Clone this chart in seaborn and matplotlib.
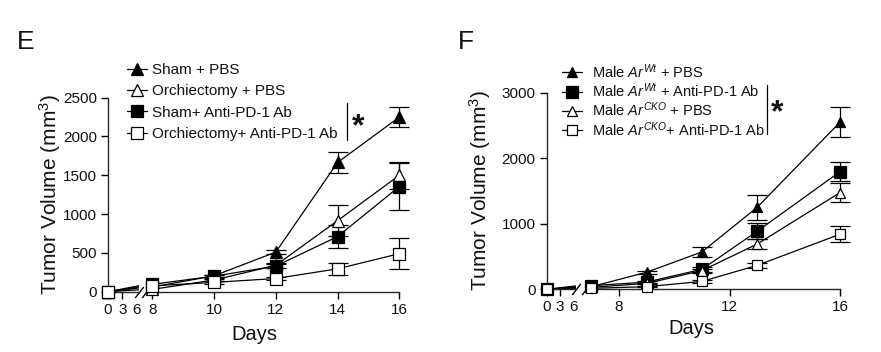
import matplotlib
matplotlib.use("Agg")
import matplotlib.pyplot as plt
from matplotlib.lines import Line2D
import pandas as pd
import seaborn as sns

# ---------------- Data: panel E ----------------
e_days = [0, 8, 10, 12, 14, 16]
e_xticks_left = [0, 3, 6]
e_xticks_right = [8, 10, 12, 14, 16]
e_yticks = [0, 500, 1000, 1500, 2000, 2500]
e_labels = ["Sham + PBS", "Orchiectomy + PBS", "Sham+ Anti-PD-1 Ab", "Orchiectomy+ Anti-PD-1 Ab"]
e_sham_pbs = [0, 60, 205, 510, 1665, 2250]
e_sham_pbs_err = [0, 0, 15, 25, 135, 130]
e_orch_pbs = [0, 30, 150, 340, 915, 1500]
e_orch_pbs_err = [0, 0, 15, 30, 200, 175]
e_sham_pd1 = [0, 95, 200, 330, 710, 1355]
e_sham_pd1_err = [0, 0, 20, 30, 150, 300]
e_orch_pd1 = [0, 75, 120, 170, 295, 490]
e_orch_pd1_err = [0, 0, 15, 20, 80, 200]

# ---------------- Data: panel F ----------------
f_days = [0, 7, 9, 11, 13, 16]
f_xticks_left = [0, 3, 6]
f_xticks_right = [8, 12, 16]
f_yticks = [0, 1000, 2000, 3000]
f_labels = [r"Male $Ar^{Wt}$ + PBS", r"Male $Ar^{Wt}$ + Anti-PD-1 Ab",
            r"Male $Ar^{CKO}$ + PBS", r"Male $Ar^{CKO}$+ Anti-PD-1 Ab"]
f_wt_pbs = [0, 40, 260, 570, 1250, 2550]
f_wt_pbs_err = [0, 0, 25, 70, 190, 225]
f_wt_pd1 = [0, 55, 110, 305, 885, 1795]
f_wt_pd1_err = [0, 0, 15, 40, 125, 150]
f_cko_pbs = [0, 30, 90, 285, 690, 1475]
f_cko_pbs_err = [0, 0, 10, 30, 70, 150]
f_cko_pd1 = [0, 15, 40, 120, 365, 840]
f_cko_pd1_err = [0, 0, 10, 20, 40, 120]

sns.set_theme(style="ticks")
plt.rcParams["font.family"] = ["Liberation Sans", "DejaVu Sans"]
plt.rcParams["mathtext.fontset"] = "custom"
plt.rcParams["mathtext.rm"] = "Liberation Sans"
plt.rcParams["mathtext.it"] = "Liberation Sans:italic"
plt.rcParams["mathtext.bf"] = "Liberation Sans:bold"
plt.rcParams["axes.linewidth"] = 1.0
TXT = "#111111"

W, H = 881, 352
fig = plt.figure(figsize=(W / 100, H / 100), dpi=100)


def rect(x0, x1, ytop, ybot):
    return [x0 / W, 1 - ybot / H, (x1 - x0) / W, (ybot - ytop) / H]


def panel(days, series, errs, labels, styles, rl, rr, xl_left, xl_right,
          xt_left, xt_right, yticks, legend_anchor, leg_fs, label_spacing, text_pad,
          ylab_x, days_xy):
    ax0 = fig.add_axes(rl)
    ax1 = fig.add_axes(rr)
    ymax = yticks[-1]
    for ax in (ax0, ax1):
        ax.set_ylim(0, ymax)
        ax.spines["top"].set_visible(False)
        ax.spines["right"].set_visible(False)
        ax.tick_params(axis="both", length=5, width=1.0, labelsize=11,
                       colors="black", labelcolor=TXT, pad=3)
        ax.set_facecolor("none")
    ax0.set_xlim(*xl_left)
    ax1.set_xlim(*xl_right)
    ax0.set_xticks(xt_left)
    ax0.set_xticklabels([str(t) for t in xt_left])
    ax0.xaxis.get_major_ticks()[-1].tick1line.set_visible(False)
    ax1.set_xticks(xt_right)
    ax1.set_xticklabels([str(t) for t in xt_right])
    ax0.set_yticks(yticks)
    ax0.set_yticklabels([str(t) for t in yticks])
    ax1.set_yticks([])
    ax1.spines["left"].set_visible(False)

    for vals, err, lab, (mk, ms, fc) in zip(series, errs, labels, styles):
        df = pd.DataFrame({"Days": days, "Volume": vals, "err": err})
        right = df[df["Days"] >= 7]
        first = df.iloc[:2]
        mstyle = dict(marker=mk, markersize=ms, markerfacecolor=fc,
                      markeredgecolor="black", markeredgewidth=0.9)
        # connecting segment across the break (clipped in both axes)
        for ax in (ax0, ax1):
            sns.lineplot(data=first, x="Days", y="Volume", ax=ax, color="black",
                         lw=0.9, sort=False, zorder=2)
        # day-0 marker
        sns.lineplot(data=df.iloc[:1], x="Days", y="Volume", ax=ax0, color="black",
                     lw=0.9, clip_on=False, zorder=4, **mstyle)
        # main series
        sns.lineplot(data=right, x="Days", y="Volume", ax=ax1, color="black",
                     lw=0.9, clip_on=False, zorder=4, label=lab, **mstyle)
        eb = right[right["err"] > 0]
        cont = ax1.errorbar(eb["Days"], eb["Volume"], yerr=eb["err"], fmt="none",
                            ecolor="black", elinewidth=0.9, capsize=7, capthick=0.9,
                            zorder=3)
        for art in cont.get_children():
            art.set_clip_on(False)
    for ax in (ax0, ax1):
        if ax.get_legend() is not None:
            ax.get_legend().remove()
        ax.set_xlabel("")
        ax.set_ylabel("")

    handles, labs = ax1.get_legend_handles_labels()
    fig.legend(handles, labs, loc="upper left",
               bbox_to_anchor=(legend_anchor[0] / W, 1 - legend_anchor[1] / H),
               frameon=False, fontsize=leg_fs, handlelength=20 / (leg_fs * 1.389),
               handletextpad=text_pad,
               labelspacing=label_spacing, borderpad=0, borderaxespad=0,
               labelcolor=TXT)

    # break marks
    bk = dict(marker=[(-1, -1.3), (1, 1.3)], markersize=8, linestyle="none",
              color="black", mec="black", mew=1.0, clip_on=False)
    ax0.plot([1], [0], transform=ax0.transAxes, **bk)
    ax1.plot([0], [0], transform=ax1.transAxes, **bk)

    ax0.set_ylabel("Tumor Volume (mm$^3$)", fontsize=15, color=TXT)
    ax0.yaxis.set_label_coords(ylab_x, 0.5)
    ax1.set_xlabel("Days", fontsize=14.5, color=TXT)
    ax1.xaxis.set_label_coords(days_xy[0], days_xy[1])
    return ax0, ax1


# ---------------- Panel E ----------------
e_styles = [("^", 8, "black"), ("^", 8, "white"), ("s", 9, "black"), ("s", 8, "white")]
panel(e_days,
      [e_sham_pbs, e_orch_pbs, e_sham_pd1, e_orch_pd1],
      [e_sham_pbs_err, e_orch_pbs_err, e_sham_pd1_err, e_orch_pd1_err],
      e_labels, e_styles,
      rect(108, 139, 97.7, 291.7), rect(146.1, 399.3, 97.7, 291.7),
      (0, 6.5), (7.8, 16), e_xticks_left, e_xticks_right, e_yticks,
      (126.7, 63), 11, 0.48, 0.37, -1.45, (0.426, -0.17))

# ---------------- Panel F ----------------
f_styles = [("^", 7.5, "black"), ("s", 8.5, "black"), ("^", 7.5, "white"), ("s", 7, "white")]
panel(f_days,
      [f_wt_pbs, f_wt_pd1, f_cko_pbs, f_cko_pd1],
      [f_wt_pbs_err, f_wt_pd1_err, f_cko_pbs_err, f_cko_pd1_err],
      f_labels, f_styles,
      rect(546.7, 575.6, 92.7, 289.3), rect(585.85, 840, 92.7, 289.3),
      (0, 6.5), (6.8, 16), f_xticks_left, f_xticks_right, f_yticks,
      (561.7, 62), 10.5, 0.05, 0.68, -1.86, (0.4165, -0.15))

# panel letters
fig.text(17 / W, 1 - 30 / H, "E", fontsize=19, color=TXT, va="top", ha="left")
fig.text(458 / W, 1 - 30 / H, "F", fontsize=19, color=TXT, va="top", ha="left")

# significance brackets
fig.add_artist(Line2D([346.7 / W] * 2, [1 - 102.7 / H, 1 - 140 / H], color="black", lw=0.9))
fig.text(357.7 / W, 1 - 127 / H, "*", fontsize=23, fontweight="bold", color=TXT,
         ha="center", va="center")
fig.add_artist(Line2D([767.3 / W] * 2, [1 - 85 / H, 1 - 134.3 / H], color="black", lw=0.9))
fig.text(777.3 / W, 1 - 113 / H, "*", fontsize=23, fontweight="bold", color=TXT,
         ha="center", va="center")

fig.savefig("out.png", dpi=100)
